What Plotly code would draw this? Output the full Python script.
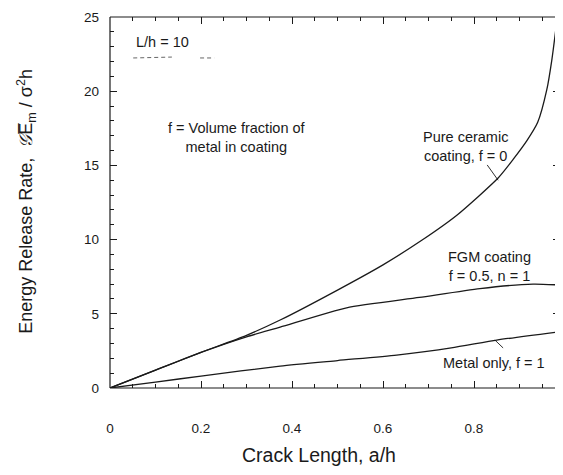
import plotly.graph_objects as go

# Data
ceramic_a = [0, 0.1, 0.2, 0.3, 0.374, 0.5, 0.6, 0.686, 0.763, 0.853, 0.886, 0.917, 0.94, 0.96, 0.971, 0.982]
ceramic_g = [0, 1.2, 2.4, 3.55, 4.58, 6.6, 8.3, 9.97, 11.66, 14.15, 15.4, 16.7, 17.9, 20.1, 22.1, 24.7]

fgm_a = [0, 0.1, 0.2, 0.3, 0.374, 0.52, 0.68, 0.813, 0.93, 0.982]
fgm_g = [0, 1.2, 2.4, 3.45, 4.1, 5.4, 6.1, 6.7, 7.0, 6.95]

metal_a = [0, 0.1, 0.2, 0.374, 0.5, 0.63, 0.75, 0.85, 0.982]
metal_g = [0, 0.4, 0.8, 1.48, 1.85, 2.22, 2.7, 3.23, 3.77]

x_range = [0, 0.989]
y_range = [0, 25]

FONT = "Liberation Sans, Arial, Helvetica, sans-serif"
INK = "#1a1a1a"

fig = go.Figure()
for a, g in [(ceramic_a, ceramic_g), (fgm_a, fgm_g), (metal_a, metal_g)]:
    fig.add_trace(go.Scatter(x=a, y=g, mode="lines",
                             line=dict(color=INK, width=1.3, shape="spline", smoothing=0.6),
                             showlegend=False, hoverinfo="skip"))

# leader lines
fig.add_trace(go.Scatter(x=[0.829, 0.853], y=[15.03, 14.0], mode="lines",
                         line=dict(color=INK, width=0.9), showlegend=False))
fig.add_trace(go.Scatter(x=[0.846, 0.864], y=[3.23, 2.70], mode="lines",
                         line=dict(color=INK, width=0.9), showlegend=False))
# faint broken line under L/h label
fig.add_trace(go.Scatter(x=[0.051, 0.136, None, 0.198, 0.229], y=[22.24, 22.3, None, 22.24, 22.24],
                         mode="lines", line=dict(color="#555", width=0.9, dash="4px,3px"),
                         showlegend=False))

def ann(x, y, text, size=14.5, **kw):
    fig.add_annotation(x=x, y=y, xref="x", yref="y", text=text, showarrow=False,
                       xanchor="center", yanchor="middle",
                       font=dict(family=FONT, size=size, color=INK), **kw)

ann(0.116, 23.3, "L/h = 10")
ann(0.279, 16.9, "f = Volume fraction of<br>metal in coating")
ann(0.782, 16.3, "Pure ceramic<br>coating, f = 0")
ann(0.835, 8.2, "FGM coating<br>f = 0.5, n = 1")
ann(0.844, 1.68, "Metal only, f = 1")

# axis titles
fig.add_annotation(x=0.464, y=-0.18, xref="paper", yref="paper",
                   xanchor="center", yanchor="middle",
                   text="Crack Length, a/h", showarrow=False,
                   font=dict(family=FONT, size=19.5, color=INK))
fig.add_annotation(x=-0.187, y=0.504, xref="paper", yref="paper",
                   xanchor="center", yanchor="middle",
                   text="Energy Release Rate,  <i>𝒢</i>E\u0305<sub>m</sub> / σ<sup>2</sup>h",
                   textangle=-90, showarrow=False,
                   font=dict(family=FONT, size=18, color=INK))

# frame (left, bottom, top)
for x0, y0, x1, y1 in [(0, 0, 0, 1), (0, 0, 1, 0), (0, 1, 1, 1)]:
    fig.add_shape(type="line", xref="paper", yref="paper", x0=x0, y0=y0, x1=x1, y1=y1,
                  line=dict(color=INK, width=1.2))

fig.update_xaxes(range=x_range, dtick=0.2, tick0=0, ticks="inside", ticklen=7,
                 tickcolor=INK, mirror="ticks", showline=False, showgrid=False,
                 zeroline=False, ticklabelstandoff=30,
                 tickfont=dict(family=FONT, size=13.5, color=INK),
                 minor=dict(dtick=0.05, tick0=0, ticks="inside", ticklen=4, tickcolor=INK))
fig.update_yaxes(range=y_range, dtick=5, tick0=0, ticks="inside", ticklen=7,
                 tickcolor=INK, mirror="ticks", showline=False, showgrid=False,
                 zeroline=False, ticklabelstandoff=10,
                 tickfont=dict(family=FONT, size=13.5, color=INK),
                 minor=dict(dtick=1, tick0=0, ticks="inside", ticklen=4, tickcolor=INK))

# browser body has an 8px margin: compensate so the plot lands where it does in the reference
fig.update_layout(width=555, height=467, margin=dict(l=102, r=3, t=9, b=87),
                  paper_bgcolor="white", plot_bgcolor="white",
                  font=dict(family=FONT, color=INK))

fig.write_html("out.html")
